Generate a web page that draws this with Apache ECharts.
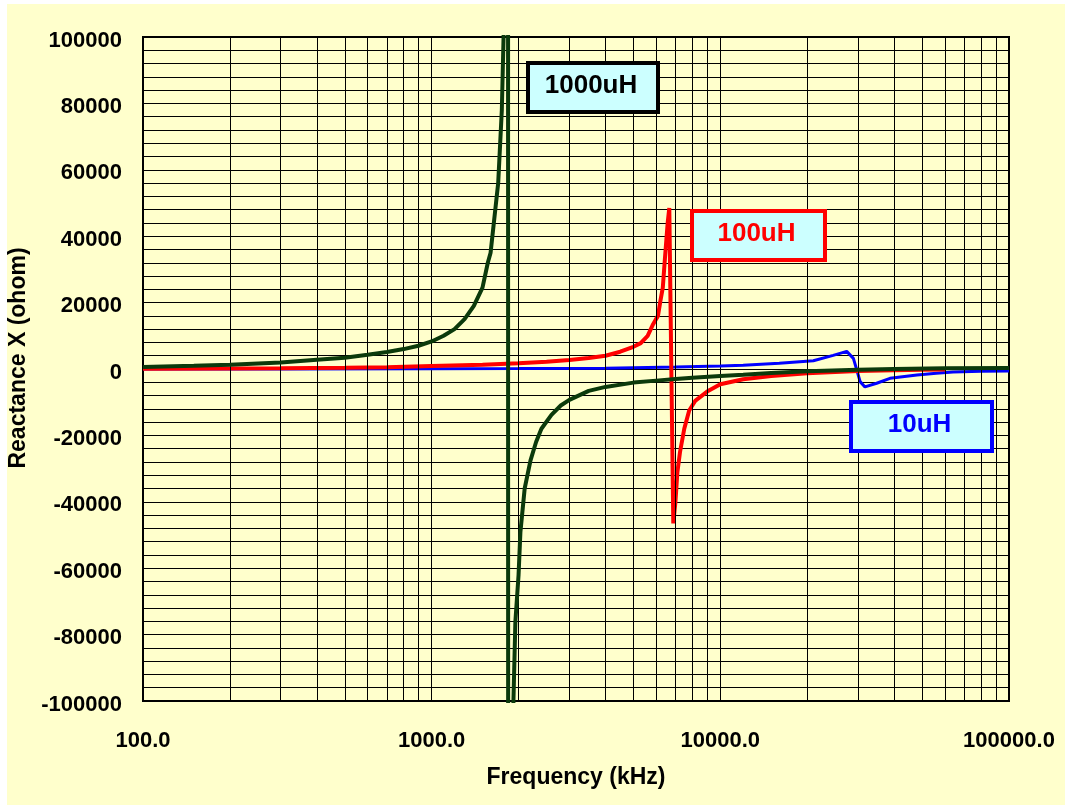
<!DOCTYPE html>
<html>
<head>
<meta charset="utf-8">
<script src="https://cdn.jsdelivr.net/npm/echarts@6/dist/echarts.min.js"></script>
<style>
  html, body { margin: 0; padding: 0; background: #ffffff; }
  #chart { position: absolute; left: 7px; top: 4px; width: 1058px; height: 801px; }
</style>
</head>
<body>
<div id="chart"></div>
<script>
// ---- data ----
const xMajorTicks = [100, 1000, 10000, 100000];
const xMinorGrid = [200, 300, 400, 500, 600, 700, 800, 900,
                    2000, 3000, 4000, 5000, 6000, 7000, 8000, 9000,
                    20000, 30000, 40000, 50000, 60000, 70000, 80000, 90000];

const freq1000 = [100, 150, 200, 300, 400, 500, 600, 700, 800, 900, 1000, 1100, 1200, 1300, 1400, 1500, 1565, 1600, 1700, 1750, 1780, 1830,
                  1850, 1900, 1920, 1950, 2000, 2030, 2100, 2200, 2300, 2400, 2600, 2800, 3000, 3500, 4000, 5000, 6000, 7000, 8000,
                  10000, 12000, 15000, 20000, 30000, 40000, 60000, 100000];
const react1000 = [630, 950, 1270, 1930, 2800, 3400, 4300, 5100, 6000, 7000, 8300, 10000, 12000, 15000, 19000, 24500, 32000, 35000, 56000, 78000, 105000, 1500000,
                   -1500000, -120000, -100000, -76000, -62000, -49000, -36000, -27500, -22000, -18000, -13800, -11000, -9300, -6600, -5400, -4100, -3500, -3000, -2600,
                   -2100, -1700, -1200, -700, -200, 0, 200, 300];

const freq100 = [100, 200, 300, 500, 700, 1000, 1500, 2000, 2500, 3000, 3500, 4000, 4500, 5000, 5300, 5600, 5850, 6080, 6200, 6320, 6430, 6570, 6656,
                 6871, 6990, 7100, 7250, 7500, 7800, 8200, 9000, 10000, 12000, 15000, 20000, 25000, 30000, 40000, 50000, 60000];
const react100 = [100, 150, 200, 350, 500, 900, 1300, 1700, 2200, 2700, 3300, 4000, 5200, 6700, 7800, 10000, 13500, 16000, 20500, 24500, 33500, 44000, 48500,
                  -46500, -40000, -31000, -25000, -18000, -12500, -9500, -6800, -4600, -3100, -2100, -1300, -900, -600, -350, -200, -150];

const freq10 = [100, 300, 1000, 2000, 4000, 7000, 10000, 12000, 16000, 21000, 24600, 27400, 28900, 29700, 30500, 31700, 34800, 38700, 48000, 56000, 64000, 80000, 100000];
const react10 = [6, 20, 60, 130, 250, 600, 900, 1100, 1700, 2500, 4100, 5300, 3200, -300, -3800, -5400, -4300, -2800, -1800, -1300, -900, -700, -600];

const seriesNames = ['10uH', '100uH', '1000uH'];
const seriesColors = ['#0000FF', '#FF0000', '#0B3A0B'];

function pairs(fs, vs) { return fs.map((f, i) => [f, vs[i]]); }

const FONT = '"Liberation Sans", Arial, Helvetica, sans-serif';
const chart = echarts.init(document.getElementById('chart'));

function labelBox(x, y, w, h, txt, color) {
  return [
    { type: 'rect', left: x, top: y, z: 100,
      shape: { width: w, height: h },
      style: { fill: '#CCFFFF', stroke: color, lineWidth: 4 } },
    { type: 'text', x: x + w / 2, y: y + h / 2, z: 101,
      style: { text: txt, fill: color, font: 'bold 26px ' + FONT, align: 'center', verticalAlign: 'middle' } }
  ];
}

chart.setOption({
  animation: false,
  backgroundColor: '#FFFFCC',
  grid: { left: 136, top: 33, width: 866, height: 664, show: true, outerBoundsMode: 'none',
          backgroundColor: '#FFFFCC', borderColor: '#000', borderWidth: 2, containLabel: false },
  xAxis: {
    type: 'log', logBase: 10, min: xMajorTicks[0], max: xMajorTicks[xMajorTicks.length - 1],
    name: 'Frequency (kHz)', nameLocation: 'middle', nameGap: 65,
    nameTextStyle: { fontFamily: FONT, fontWeight: 'bold', fontSize: 23, color: '#000' },
    axisLine: { onZero: false, lineStyle: { color: '#000', width: 2 } },
    axisTick: { show: false },
    axisLabel: { margin: 29, fontFamily: FONT, fontWeight: 'bold', fontSize: 22, color: '#000',
                 formatter: v => Number(v).toFixed(1) },
    splitLine: { show: true, lineStyle: { color: '#000', width: 1 } }
  },
  yAxis: {
    type: 'value', min: -100000, max: 100000, interval: 20000,
    name: 'Reactance X (ohom)', nameLocation: 'middle', nameGap: 98,
    nameTextStyle: { fontFamily: FONT, fontWeight: 'bold', fontSize: 23, color: '#000', padding: [0, 0, 0, 22] },
    axisLine: { onZero: false, lineStyle: { color: '#000', width: 2 } },
    axisTick: { show: false },
    minorTick: { show: false, splitNumber: 5 },
    minorSplitLine: { show: true, lineStyle: { color: '#000', width: 1 } },
    axisLabel: { margin: 21, fontFamily: FONT, fontWeight: 'bold', fontSize: 22, color: '#000',
                 verticalAlign: 'top', lineHeight: 7, formatter: v => String(v) },
    splitLine: { show: true, lineStyle: { color: '#000', width: 1 } }
  },
  series: [
    { type: 'line', name: 'grid', data: [], z: 1, silent: true,
      markLine: { silent: true, symbol: ['none', 'none'], label: { show: false },
                  lineStyle: { color: '#000', width: 1, type: 'solid' },
                  emphasis: { disabled: true },
                  data: xMinorGrid.map(v => ({ xAxis: v })) } },
    { type: 'line', name: seriesNames[0], data: pairs(freq10, react10), z: 3,
      showSymbol: false, lineStyle: { color: seriesColors[0], width: 3 }, itemStyle: { color: seriesColors[0] } },
    { type: 'line', name: seriesNames[1], data: pairs(freq100, react100), z: 4,
      showSymbol: false, lineStyle: { color: seriesColors[1], width: 4 }, itemStyle: { color: seriesColors[1] } },
    { type: 'line', name: seriesNames[2], data: pairs(freq1000, react1000), z: 5,
      showSymbol: false, lineStyle: { color: seriesColors[2], width: 4 }, itemStyle: { color: seriesColors[2] } }
  ],
  graphic: [].concat(
    labelBox(519, 57, 130, 49, seriesNames[2], '#000000'),
    labelBox(683, 205, 133, 49, seriesNames[1], '#FF0000'),
    labelBox(842, 396, 141, 49, seriesNames[0], '#0000FF')
  )
});
</script>
</body>
</html>
